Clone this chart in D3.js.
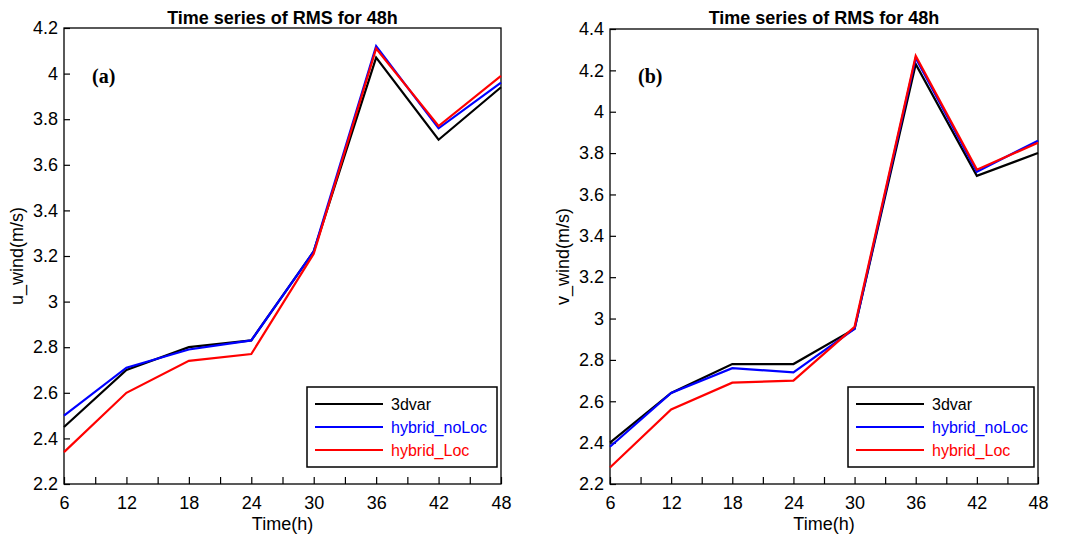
<!DOCTYPE html>
<html>
<head>
<meta charset="utf-8">
<script src="https://cdn.jsdelivr.net/npm/d3@7"></script>
<style>
  body { margin: 0; background: #fff; }
  text { font-family: Arial, "Liberation Sans", sans-serif; }
</style>
</head>
<body>
<div id="chart"></div>
<script>
// data
var hours = [6, 12, 18, 24, 30, 36, 42, 48];
var xTicks = [6, 9, 12, 15, 18, 21, 24, 27, 30, 33, 36, 39, 42, 45, 48];
var seriesNames = ["3dvar", "hybrid_noLoc", "hybrid_Loc"];
var seriesColors = ["#000000", "#0000ff", "#ff0000"];

var u3dvar = [2.45, 2.70, 2.80, 2.83, 3.22, 4.07, 3.71, 3.94];
var uNoLoc = [2.50, 2.71, 2.79, 2.83, 3.22, 4.12, 3.76, 3.96];
var uLoc = [2.34, 2.60, 2.74, 2.77, 3.21, 4.11, 3.77, 3.99];
var uTicks = [2.2, 2.4, 2.6, 2.8, 3, 3.2, 3.4, 3.6, 3.8, 4, 4.2];

var v3dvar = [2.40, 2.64, 2.78, 2.78, 2.95, 4.23, 3.69, 3.80];
var vNoLoc = [2.38, 2.64, 2.76, 2.74, 2.95, 4.26, 3.71, 3.86];
var vLoc = [2.28, 2.56, 2.69, 2.70, 2.96, 4.27, 3.72, 3.85];
var vTicks = [2.2, 2.4, 2.6, 2.8, 3, 3.2, 3.4, 3.6, 3.8, 4, 4.2, 4.4];

var svg = d3.select("#chart").append("svg")
  .attr("width", 1079)
  .attr("height", 534);

function drawPanel(p) {
  var x = d3.scaleLinear().domain([6, 48]).range([p.left, p.right]);
  var y = d3.scaleLinear().domain([p.yTicks[0], p.yTicks[p.yTicks.length - 1]]).range([p.bottom, p.top]);
  var g = svg.append("g");

  // x axis, ticks pointing in
  var xAxis = d3.axisBottom(x)
    .tickValues(xTicks)
    .tickFormat(d => d % 6 === 0 ? d : "")
    .tickSizeInner(-7)
    .tickSizeOuter(0)
    .tickPadding(12);
  g.append("g")
    .attr("transform", "translate(0," + p.bottom + ")")
    .call(xAxis)
    .call(s => s.selectAll("text").attr("font-size", "18px").attr("fill", "#000").style("font-family", "Arial, 'Liberation Sans'"))
    .call(s => s.selectAll("line").attr("stroke", "#000").attr("stroke-width", 1.2))
    .call(s => s.select(".domain").remove());

  var yAxis = d3.axisLeft(y)
    .tickValues(p.yTicks)
    .tickFormat(d3.format("~g"))
    .tickSizeInner(-6)
    .tickSizeOuter(0)
    .tickPadding(6);
  g.append("g")
    .attr("transform", "translate(" + p.left + ",0)")
    .call(yAxis)
    .call(s => s.selectAll("text").attr("font-size", "18px").attr("fill", "#000").style("font-family", "Arial, 'Liberation Sans'"))
    .call(s => s.selectAll("line").attr("stroke", "#000").attr("stroke-width", 1.2))
    .call(s => s.select(".domain").remove());

  // frame
  g.append("rect")
    .attr("x", p.left).attr("y", p.top)
    .attr("width", p.right - p.left).attr("height", p.bottom - p.top)
    .attr("fill", "none").attr("stroke", "#000").attr("stroke-width", 1.3);

  var line = d3.line()
    .x((d, i) => x(hours[i]))
    .y(d => y(d));

  p.series.forEach(function(vals, k) {
    g.append("path")
      .datum(vals)
      .attr("d", line)
      .attr("fill", "none")
      .attr("stroke", seriesColors[k])
      .attr("stroke-width", 2.2)
      .attr("stroke-linejoin", "miter");
  });

  // title
  g.append("text")
    .attr("x", (p.left + p.right) / 2)
    .attr("y", 24)
    .attr("text-anchor", "middle")
    .attr("font-size", "18px")
    .attr("font-weight", "bold")
    .text("Time series of RMS for 48h");

  // axis titles
  g.append("text")
    .attr("x", (p.left + p.right) / 2)
    .attr("y", 530)
    .attr("text-anchor", "middle")
    .attr("font-size", "18px")
    .text("Time(h)");

  g.append("text")
    .attr("transform", "translate(" + (p.left - 41) + "," + ((p.top + p.bottom) / 2) + ") rotate(-90)")
    .attr("text-anchor", "middle")
    .attr("font-size", "18px")
    .text(p.yLabel);

  // panel letter
  g.append("text")
    .attr("x", p.left + 28)
    .attr("y", 83)
    .attr("font-size", "20px")
    .attr("font-weight", "bold")
    .style("font-family", "'Liberation Serif', 'Times New Roman', serif")
    .text(p.letter);

  // legend
  var lg = g.append("g");
  lg.append("rect")
    .attr("x", p.legendX).attr("y", 387)
    .attr("width", p.right - 4 - p.legendX).attr("height", 80)
    .attr("fill", "#fff").attr("stroke", "#000").attr("stroke-width", 1.5);
  seriesNames.forEach(function(name, k) {
    var yy = 404 + k * 23;
    lg.append("line")
      .attr("x1", p.legendX + 8).attr("x2", p.legendX + 76)
      .attr("y1", yy).attr("y2", yy)
      .attr("stroke", seriesColors[k]).attr("stroke-width", 2.2);
    lg.append("text")
      .attr("x", p.legendX + 84)
      .attr("y", yy)
      .attr("dy", "0.35em")
      .attr("font-size", "16px")
      .attr("fill", seriesColors[k])
      .text(name);
  });
}

drawPanel({
  left: 64, right: 501, top: 28, bottom: 484,
  yTicks: uTicks, yLabel: "u_wind(m/s)", letter: "(a)",
  series: [u3dvar, uNoLoc, uLoc], legendX: 307
});

drawPanel({
  left: 610, right: 1038, top: 29, bottom: 484,
  yTicks: vTicks, yLabel: "v_wind(m/s)", letter: "(b)",
  series: [v3dvar, vNoLoc, vLoc], legendX: 848
});
</script>
</body>
</html>
